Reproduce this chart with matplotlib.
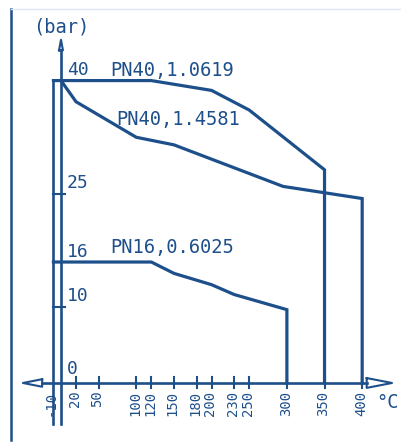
#!/usr/bin/env python3
"""Pressure-temperature rating chart (PN40 / PN16 flange materials)."""

import matplotlib.pyplot as plt

# x ticks (temperature, degC) and y ticks (pressure, bar)
X_TICKS = [-10, 20, 50, 100, 120, 150, 180, 200, 230, 250, 300, 350, 400]
Y_TICKS = [0, 10, 16, 25, 40]

# PN40, material 1.0619
T_A = [-10, 120, 200, 250, 350, 350]
P_A = [40, 40, 38.7, 36.1, 28.2, 0]

# PN40, material 1.4581
T_B = [0, 20, 100, 150, 295, 400, 400]
P_B = [40, 37.2, 32.5, 31.5, 26.0, 24.4, 0]

# PN16, material 0.6025
T_C = [-10, 120, 150, 200, 230, 300, 300]
P_C = [16, 16, 14.5, 13.0, 11.7, 9.7, 0]

LABELS = ["PN40,1.0619", "PN40,1.4581", "PN16,0.6025"]

BLUE = "#1d4f8b"
MONO = "DejaVu Sans Mono"


def main() -> None:
    fig = plt.figure(figsize=(4.06, 4.43), dpi=100)
    ax = fig.add_axes([0, 0, 1, 1])
    ax.set_xlim(-81.0, 458.2)
    ax.set_ylim(-7.94, 50.66)
    ax.axis("off")

    lw = 2.3
    ax.plot(T_A, P_A, color=BLUE, lw=lw, solid_joinstyle="miter")
    ax.plot(T_B, P_B, color=BLUE, lw=lw, solid_joinstyle="miter")
    ax.plot(T_C, P_C, color=BLUE, lw=lw, solid_joinstyle="miter")

    # -10 line and axes
    ax.plot([-10, -10], [-5.4, 40], color=BLUE, lw=1.9)
    ax.plot([0, 0], [-5.4, 44.0], color=BLUE, lw=1.9)
    ax.plot([-25, 406], [0, 0], color=BLUE, lw=1.9)

    # open arrow heads
    ax.plot([-2.6, 0, 2.6, -2.6], [44.0, 45.4, 44.0, 44.0], color=BLUE, lw=1.5)
    ax.plot([-25, -50.5, -25, -25], [0.5, 0, -0.5, 0.5], color=BLUE, lw=1.5)
    ax.plot([406, 439.6, 406, 406], [0.65, 0, -0.65, 0.65], color=BLUE, lw=1.5)

    # ticks
    for t in X_TICKS[1:]:
        ax.plot([t, t], [0.8, -0.66], color=BLUE, lw=1.5)
        ax.text(t - 1.5, -1.0, str(t), rotation=90, ha="center", va="top",
                fontsize=10, family=MONO, color=BLUE)
    ax.text(-14, -1.0, "-10", rotation=90, ha="center", va="top",
            fontsize=10, family=MONO, color=BLUE)
    for p in (10, 25):
        ax.plot([-10, 5], [p, p], color=BLUE, lw=1.5)

    y_pos = {40: 41.4, 25: 26.5, 16: 17.3, 10: 11.5, 0: 1.85}
    for p in Y_TICKS:
        ax.text(7.5, y_pos[p], str(p), ha="left", va="center",
                fontsize=13, family=MONO, color=BLUE)

    ax.text(65, 41.4, LABELS[0], ha="left", va="center",
            fontsize=13.5, family=MONO, color=BLUE)
    ax.text(74, 34.8, LABELS[1], ha="left", va="center",
            fontsize=13.5, family=MONO, color=BLUE)
    ax.text(65, 17.9, LABELS[2], ha="left", va="center",
            fontsize=13.5, family=MONO, color=BLUE)

    ax.text(-37, 47.1, "(bar)", ha="left", va="center",
            fontsize=13.5, family=MONO, color=BLUE)
    ax.text(419, -2.6, "°C", ha="left", va="center",
            fontsize=13.5, family=MONO, color=BLUE)

    # drawing frame
    ax.plot([-66.3, -66.3], [-7.6, 49.5], color=BLUE, lw=1.8)
    ax.plot([-66.3, 450], [49.5, 49.5], color="#dde9f5", lw=1.0)

    fig.savefig("out.png", dpi=100)


if __name__ == "__main__":
    main()
